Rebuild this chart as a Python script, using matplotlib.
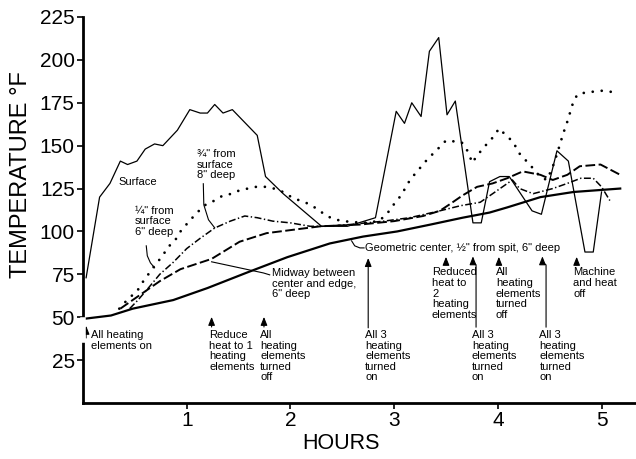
import matplotlib.pyplot as plt

plt.rcParams['font.family'] = ['Liberation Sans', 'DejaVu Sans']
plt.rcParams['lines.scale_dashes'] = False

# Surface probe
surf_h = [0.03, 0.16, 0.26, 0.36, 0.43, 0.52, 0.60, 0.69, 0.77, 0.91, 1.03, 1.13, 1.20,
          1.27, 1.35, 1.44, 1.68, 1.76, 1.93, 2.30, 2.55, 2.82, 3.02, 3.10, 3.17, 3.26,
          3.34, 3.43, 3.51, 3.59, 3.76, 3.84, 3.92, 4.02, 4.11, 4.33, 4.42, 4.57, 4.68,
          4.84, 4.92, 5.00]
surf_t = [73, 120, 128, 141, 139, 141, 148, 151, 150, 159, 171, 169, 169,
          174, 169, 171, 156, 132, 122, 103, 103, 108, 170, 163, 175, 167,
          205, 213, 168, 176, 105, 105, 129, 132, 132, 112, 110, 147, 141,
          88, 88, 123]

# 1/4" from surface, 6" deep (dotted)
quarter_h = [0.35, 0.41, 0.46, 0.52, 0.57, 0.63, 0.69, 0.77, 0.82, 0.88, 0.94, 1.01, 1.10,
             1.19, 1.27, 1.35, 1.44, 1.51, 1.59, 1.67, 1.76, 1.84, 1.93, 2.01, 2.09, 2.18,
             2.26, 2.35, 2.43, 2.51, 2.70, 2.85, 2.91, 2.94, 3.00, 3.08, 3.12, 3.18, 3.25,
             3.32, 3.42, 3.50, 3.65, 3.69, 3.73, 3.75, 3.80, 3.85, 3.91, 3.97, 4.01, 4.08,
             4.15, 4.20, 4.26, 4.31, 4.36, 4.41, 4.47, 4.52, 4.57, 4.63, 4.67, 4.70, 4.73,
             4.77, 4.85, 5.00, 5.15]
quarter_t = [55, 59, 62, 65, 70, 75, 80, 86, 91, 94, 100, 105, 111,
             116, 118, 121, 122, 124, 125, 126, 126, 125, 123, 120, 118, 116,
             113, 109, 107, 106, 105, 106, 109, 111, 116, 122, 127, 132, 137,
             142, 148, 153, 152, 149, 144, 140, 144, 148, 152, 156, 160, 156,
             152, 146, 142, 139, 135, 132, 130, 136, 145, 157, 164, 170, 176,
             180, 181, 182, 181]

# 3/4" from surface, 8" deep (dash-dot)
three_q_h = [0.45, 0.53, 0.63, 0.74, 0.87, 1.00, 1.13, 1.27, 1.42, 1.56, 1.68, 1.83, 2.00,
             2.19, 2.31, 2.57, 2.90, 3.15, 3.44, 3.64, 3.83, 3.95, 4.14, 4.21, 4.34, 4.53,
             4.67, 4.80, 4.92, 5.00, 5.08]
three_q_t = [55, 60, 67, 75, 82, 90, 96, 102, 106, 109, 108, 106, 105,
             103, 103, 104, 106, 108, 112, 115, 117, 122, 130, 125, 122, 125,
             128, 131, 131, 126, 118]

# Midway between center and edge, 6" deep (dashed)
mid_h = [0.36, 0.55, 0.74, 0.94, 1.24, 1.51, 1.77, 2.03, 2.29, 2.67, 3.00, 3.28, 3.44,
         3.54, 3.66, 3.80, 3.95, 4.09, 4.24, 4.41, 4.53, 4.67, 4.79, 4.99, 5.18]
mid_t = [55, 63, 71, 78, 84, 94, 99, 101, 103, 104, 106, 109, 112,
         116, 121, 126, 128, 131, 135, 133, 130, 133, 138, 139, 133]

# Geometric center, 1/2" from spit, 6" deep
center_h = [0.0, 0.27, 0.48, 0.87, 1.20, 1.58, 1.97, 2.38, 2.70, 3.03, 3.35, 3.66, 3.92,
            4.09, 4.41, 4.73, 5.18]
center_t = [49, 51, 55, 60, 67, 76, 85, 93, 97, 100, 104, 108, 111,
            114, 120, 123, 125]

fig = plt.figure(figsize=(6.36, 4.59), dpi=100)
ax = fig.add_axes([0.1305, 0.122, 0.868, 0.841])

ax.plot(surf_h, surf_t, color='black', lw=0.9)
ax.plot(center_h, center_t, color='black', lw=1.6)
ax.plot(mid_h, mid_t, color='black', lw=1.4, linestyle=(0, (7, 2.5)))
ax.plot(three_q_h, three_q_t, color='black', lw=1.1, linestyle=(0, (5, 1.8, 1, 1.8)))
ax.plot(quarter_h, quarter_t, color='black', lw=2.0, linestyle=(0, (0.01, 6.5)),
        dash_capstyle='round')

ax.set_xlim(0, 5.323)
ax.set_ylim(0, 225)
ax.set_xticks([1, 2, 3, 4, 5])
ax.set_yticks(range(25, 226, 25))
ax.tick_params(direction='out', length=4, width=1.2, labelsize=15, pad=2)
ax.spines[['top', 'right']].set_visible(False)
ax.spines[['left', 'bottom']].set_linewidth(2)

ax.set_xlabel('HOURS', fontsize=15.5)
ax.xaxis.set_label_coords(0.467, -0.078)
ax.set_ylabel('TEMPERATURE °F', fontsize=17)
ax.yaxis.set_label_coords(-0.093, 0.593)

# break in the y axis where the first arrow sits
ax.plot([0, 0], [36.8, 48.5], color='white', lw=4, clip_on=False, zorder=5)

note = dict(fontsize=8, linespacing=1.07, va='top', ha='left')

# curve labels with leaders
ax.text(0.34, 129, 'Surface', fontsize=8, va='center')
ax.text(1.10, 148, '¾" from\nsurface\n8" deep', **note)
ax.plot([1.16, 1.165, 1.21, 1.27], [127.8, 115.5, 106.8, 102.1], color='black', lw=0.8)
ax.text(0.50, 115, '¼" from\nsurface\n6" deep', **note)
ax.plot([0.61, 0.62, 0.65, 0.69], [91.6, 85.8, 81.7, 78.8], color='black', lw=0.8)
ax.text(1.82, 78.5, 'Midway between\ncenter and edge,\n6" deep', **note)
ax.plot([1.24, 1.74, 1.80], [82.3, 75.8, 74.7], color='black', lw=0.8)
ax.text(2.72, 90.4, 'Geometric center, ½" from spit, 6" deep', fontsize=8, va='center')
ax.plot([2.59, 2.62, 2.67, 2.71], [94.5, 91.6, 90.4, 90.4], color='black', lw=0.8)

arrow = dict(arrowstyle='-|>,head_length=0.5,head_width=0.2', lw=0.8, color='black',
             shrinkA=0, shrinkB=0)

# heating events: (arrow x, arrow tail, arrow tip, text x, text top, text)
events = [
    (0.03, 37.9, 45.0, 0.08, 42.5, 'All heating\nelements on'),
    (1.24, 44.3, 50.2, 1.215, 42.5, 'Reduce\nheat to 1\nheating\nelements'),
    (1.745, 44.3, 50.2, 1.707, 42.5, 'All\nheating\nelements\nturned\noff'),
    (2.75, 43.8, 84.5, 2.72, 42.5, 'All 3\nheating\nelements\nturned\non'),
    (3.50, 80.5, 85.2, 3.365, 79.0, 'Reduced\nheat to\n2\nheating\nelements'),
    (4.01, 80.5, 85.2, 3.98, 79.0, 'All\nheating\nelements\nturned\noff'),
    (4.76, 80.5, 85.2, 4.725, 79.0, 'Machine\nand heat\noff'),
]
for ax_x, tail, tip, tx, ty, label in events:
    ax.annotate('', xy=(ax_x, tip), xytext=(ax_x, tail), arrowprops=arrow)
    ax.text(tx, ty, label, **note)

# two later switch-ons drawn with a hooked leader
hooked = [
    (3.79, 3.76, 3.75, 'All 3\nheating\nelements\nturned\non'),
    (4.465, 4.43, 4.40, 'All 3\nheating\nelements\nturned\non'),
]
for lx, hx, tx, label in hooked:
    ax.plot([lx, lx, hx, hx], [44.3, 80.5, 82.0, 82.5], color='black', lw=0.8)
    ax.annotate('', xy=(hx, 85.5), xytext=(hx, 82.0), arrowprops=arrow)
    ax.text(tx, 42.5, label, **note)

fig.savefig('out.png', dpi=100)
